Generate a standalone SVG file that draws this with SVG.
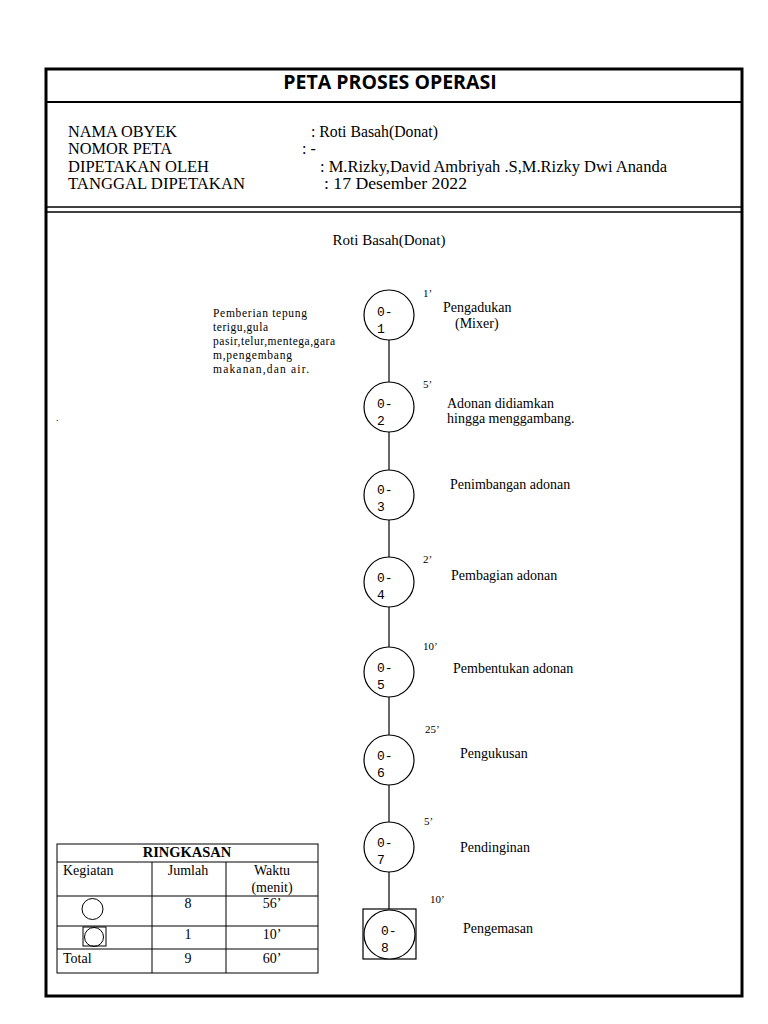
<svg xmlns="http://www.w3.org/2000/svg" width="768" height="1024" viewBox="0 0 768 1024">
<style>
.s{font-family:"Liberation Serif","Times New Roman",serif;fill:#000}
.h{font-size:16px}
.d{font-size:14px}
.t{font-size:11px}
.c{font-size:13px;font-family:"Liberation Mono","Courier New",monospace;fill:#000}
.n{fill:#fff;stroke:#000;stroke-width:1.2}
.ln{stroke:#000;stroke-width:1.2;fill:none}
.tb{stroke:#000;stroke-width:1;fill:none}
</style>
<rect x="0" y="0" width="768" height="1024" fill="#fff"/>
<rect id="frame" x="46" y="69" width="696" height="927" fill="none" stroke="#000" stroke-width="3"/>
<line x1="46" y1="102" x2="742" y2="102" stroke="#000" stroke-width="2"/>
<line x1="46" y1="207" x2="742" y2="207" stroke="#000" stroke-width="1.5"/>
<line x1="46" y1="212" x2="742" y2="212" stroke="#000" stroke-width="1.5"/>
<text x="390" y="89" text-anchor="middle" font-family="'Open Sans','Liberation Sans',sans-serif" font-weight="bold" font-size="19.5">PETA PROSES OPERASI</text>
<g id="header" class="s h">
<text x="68" y="137" textLength="109" lengthAdjust="spacingAndGlyphs">NAMA OBYEK</text>
<text x="68" y="154" textLength="104" lengthAdjust="spacingAndGlyphs">NOMOR PETA</text>
<text x="68" y="172" textLength="141" lengthAdjust="spacingAndGlyphs">DIPETAKAN OLEH</text>
<text x="68" y="189" textLength="177" lengthAdjust="spacingAndGlyphs">TANGGAL DIPETAKAN</text>
<text x="311" y="137" textLength="127" lengthAdjust="spacingAndGlyphs">: Roti Basah(Donat)</text>
<text x="302" y="154">: -</text>
<text x="320" y="172" textLength="347" lengthAdjust="spacingAndGlyphs">: M.Rizky,David Ambriyah .S,M.Rizky Dwi Ananda</text>
<text x="324" y="189" textLength="143" lengthAdjust="spacingAndGlyphs">: 17 Desember 2022</text>
</g>
<text class="s" font-size="15" x="389" y="245" text-anchor="middle">Roti Basah(Donat)</text>
<text class="s" font-size="10" x="56" y="421">.</text>
<g id="connectors">
<line class="ln" x1="389" y1="340" x2="389" y2="382"/>
<line class="ln" x1="389" y1="432" x2="389" y2="470"/>
<line class="ln" x1="389" y1="520" x2="389" y2="557"/>
<line class="ln" x1="389" y1="607" x2="389" y2="647"/>
<line class="ln" x1="389" y1="697" x2="389" y2="735"/>
<line class="ln" x1="389" y1="785" x2="389" y2="822"/>
<line class="ln" x1="389" y1="872" x2="389" y2="909"/>
</g>
<g id="note" class="s" font-size="11.5">
<text x="213" y="317" textLength="94" lengthAdjust="spacing">Pemberian tepung</text>
<text x="213" y="331" textLength="55" lengthAdjust="spacing">terigu,gula</text>
<text x="213" y="345" textLength="122" lengthAdjust="spacing">pasir,telur,mentega,gara</text>
<text x="213" y="359" textLength="79" lengthAdjust="spacing">m,pengembang</text>
<text x="213" y="373" textLength="96" lengthAdjust="spacing">makanan,dan air.</text>
</g>
<g id="n1"><circle class="n" cx="389" cy="315" r="25"/><text class="c" x="377" y="316">0-</text><text class="c" x="377" y="333">1</text>
<text class="s t" x="423" y="297">1’</text><text class="s d" x="443" y="312">Pengadukan</text><text class="s d" x="455" y="328">(Mixer)</text></g>
<g id="n2"><circle class="n" cx="389" cy="407" r="25"/><text class="c" x="377" y="408">0-</text><text class="c" x="377" y="425">2</text>
<text class="s t" x="423" y="388">5’</text><text class="s d" x="447" y="408">Adonan didiamkan</text><text class="s d" x="447" y="423">hingga menggambang.</text></g>
<g id="n3"><circle class="n" cx="389" cy="495" r="25"/><text class="c" x="377" y="494">0-</text><text class="c" x="377" y="511">3</text>
<text class="s d" x="450" y="489">Penimbangan adonan</text></g>
<g id="n4"><circle class="n" cx="389" cy="582" r="25"/><text class="c" x="377" y="582">0-</text><text class="c" x="377" y="599">4</text>
<text class="s t" x="423" y="563">2’</text><text class="s d" x="451" y="580">Pembagian adonan</text></g>
<g id="n5"><circle class="n" cx="389" cy="672" r="25"/><text class="c" x="377" y="672">0-</text><text class="c" x="377" y="689">5</text>
<text class="s t" x="423" y="650">10’</text><text class="s d" x="453" y="673">Pembentukan adonan</text></g>
<g id="n6"><circle class="n" cx="389" cy="760" r="25"/><text class="c" x="377" y="760">0-</text><text class="c" x="377" y="777">6</text>
<text class="s t" x="425" y="733">25’</text><text class="s d" x="460" y="758">Pengukusan</text></g>
<g id="n7"><circle class="n" cx="389" cy="847" r="25"/><text class="c" x="377" y="847">0-</text><text class="c" x="377" y="864">7</text>
<text class="s t" x="424" y="825">5’</text><text class="s d" x="460" y="852">Pendinginan</text></g>
<g id="n8"><rect class="n" x="363" y="909" width="53" height="50"/><ellipse class="n" cx="389.5" cy="934.5" rx="25.5" ry="24.5"/><text class="c" x="381" y="935">0-</text><text class="c" x="381" y="952">8</text>
<text class="s t" x="430" y="903">10’</text><text class="s d" x="463" y="933">Pengemasan</text></g>
<g id="summary">
<rect class="tb" x="57" y="844" width="261" height="129"/>
<line class="tb" x1="57" y1="862" x2="318" y2="862"/>
<line class="tb" x1="57" y1="896" x2="318" y2="896"/>
<line class="tb" x1="57" y1="926" x2="318" y2="926"/>
<line class="tb" x1="57" y1="949" x2="318" y2="949"/>
<line class="tb" x1="152" y1="862" x2="152" y2="973"/>
<line class="tb" x1="226" y1="862" x2="226" y2="973"/>
<text class="s" font-size="14.5" font-weight="bold" x="187" y="857" text-anchor="middle">RINGKASAN</text>
<g class="s" font-size="14">
<text x="63" y="875">Kegiatan</text>
<text x="188" y="875" text-anchor="middle">Jumlah</text>
<text x="272" y="875" text-anchor="middle">Waktu</text>
<text x="272" y="892" text-anchor="middle">(menit)</text>
<text x="188" y="908" text-anchor="middle">8</text>
<text x="272" y="908" text-anchor="middle">56’</text>
<text x="188" y="939" text-anchor="middle">1</text>
<text x="272" y="939" text-anchor="middle">10’</text>
<text x="63" y="963">Total</text>
<text x="188" y="963" text-anchor="middle">9</text>
<text x="272" y="963" text-anchor="middle">60’</text>
</g>
<circle class="tb" cx="92.5" cy="909" r="10.5"/>
<rect class="tb" x="83" y="927" width="23" height="19"/>
<circle class="tb" cx="94" cy="937" r="9.5"/>
</g>
</svg>
